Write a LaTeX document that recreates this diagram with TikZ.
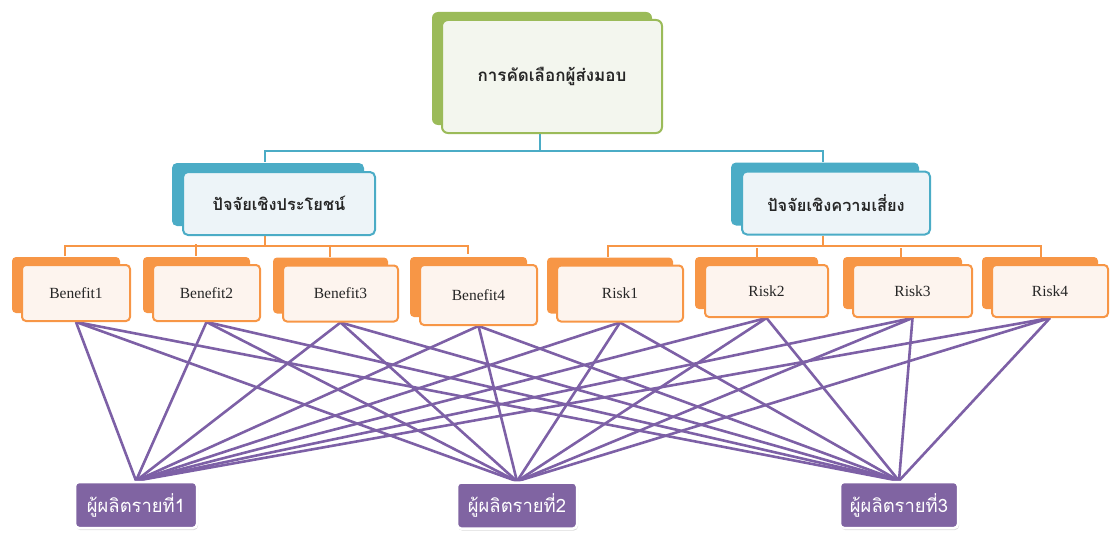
\documentclass[tikz,border=0pt]{standalone}
\usepackage{fontspec}
\setmainfont{Liberation Serif}
\newfontfamily\thaifont[Script=Thai]{Loma}
\usetikzlibrary{shadows,backgrounds}
\definecolor{gr}{HTML}{9BBB59}
\definecolor{grfill}{HTML}{F3F6EE}
\definecolor{tl}{HTML}{4BACC6}
\definecolor{tlfill}{HTML}{EDF4F8}
\definecolor{orr}{HTML}{F79646}
\definecolor{orfill}{HTML}{FDF4EE}
\definecolor{pu}{HTML}{8064A2}
\definecolor{puline}{HTML}{7D60A6}
\tikzset{
  topbox/.style={draw=gr, line width=2pt, fill=grfill, rounded corners=6pt,
    general shadow={shadow xshift=-10pt, shadow yshift=8pt, fill=gr},
    minimum width=220pt, minimum height=113pt, font=\thaifont\bfseries\fontsize{17}{19}\selectfont, text=black!85},
  midbox/.style={draw=tl, line width=2pt, fill=tlfill, rounded corners=5pt,
    general shadow={shadow xshift=-11pt, shadow yshift=9pt, fill=tl},
    minimum height=63pt, font=\thaifont\bfseries\fontsize{16.4}{18}\selectfont, text=black!85},
  leafbox/.style={draw=orr, line width=2pt, fill=orfill, rounded corners=4pt,
    general shadow={shadow xshift=-10pt, shadow yshift=8pt, fill=orr},
    minimum height=56pt, font=\fontsize{15.5}{17}\selectfont, text=black!85},
  supbox/.style={draw=white, line width=2.5pt, fill=pu, rounded corners=4pt,
    drop shadow={shadow xshift=1pt, shadow yshift=-2pt, opacity=.35, fill=black!40},
    minimum width=120pt, minimum height=46pt, font=\thaifont\fontsize{18.4}{20}\selectfont, text=white},
  tline/.style={draw=tl, line width=2pt},
  oline/.style={draw=orr, line width=2pt},
  pline/.style={draw=puline, line width=2.6pt}
}
\begin{document}
\begin{tikzpicture}[x=1pt,y=-1pt]
\useasboundingbox (0,0) rectangle (1110,535);
% top
\node[topbox] (top) at (552,76.5) {การคัดเลือกผู้ส่งมอบ};
% middle
\node[midbox, minimum width=192pt] (ml) at (279,203.5) {ปัจจัยเชิงประโยชน์};
\node[midbox, minimum width=188pt] (mr) at (836,203) {ปัจจัยเชิงความเสี่ยง};
% leaves
\node[leafbox, minimum width=108pt] (B1) at (76,293) {Benefit1};
\node[leafbox, minimum width=107pt] (B2) at (206.5,293) {Benefit2};
\node[leafbox, minimum width=115pt] (B3) at (340.5,293.5) {Benefit3};
\node[leafbox, minimum width=117pt, minimum height=60pt] (B4) at (478.5,295) {Benefit4};
\node[leafbox, minimum width=126pt] (R1) at (620,293.5) {Risk1};
\node[leafbox, minimum width=123pt, minimum height=52pt] (R2) at (766.5,291) {Risk2};
\node[leafbox, minimum width=119pt, minimum height=52pt] (R3) at (912.5,291) {Risk3};
\node[leafbox, minimum width=116pt, minimum height=52pt] (R4) at (1050,291) {Risk4};
% suppliers
\node[supbox, minimum width=122pt] (P1) at (136,505) {ผู้ผลิตรายที่1};
\node[supbox] (P2) at (517,505.5) {ผู้ผลิตรายที่2};
\node[supbox, minimum width=118pt] (P3) at (899,505) {ผู้ผลิตรายที่3};
\begin{scope}[on background layer]
% teal connectors
\draw[tline] ([xshift=-12pt]top.south) -- ++(0,17) coordinate (tj);
\draw[tline] ([xshift=-14pt,yshift=9pt]ml.north) |- (tj) -| ([xshift=-13pt,yshift=9pt]mr.north);
% orange connectors
\draw[oline] ([xshift=-14pt]ml.south) -- ++(0,10) coordinate (lj);
\draw[oline] ([xshift=-11pt,yshift=8pt]B1.north) |- (lj) -| ([xshift=-11pt,yshift=10pt]B4.north);
\draw[oline] ([xshift=-11pt,yshift=8pt]B2.north) -- ++(0,-12);
\draw[oline] ([xshift=-11pt,yshift=8pt]B3.north) -- ++(0,-12);
\draw[oline] ([xshift=-13pt]mr.south) -- ++(0,10.5) coordinate (rj);
\draw[oline] ([xshift=-12pt,yshift=8pt]R1.north) |- (rj) -| ([xshift=-9pt,yshift=6pt]R4.north);
\draw[oline] ([xshift=-10pt,yshift=6pt]R2.north) -- ++(0,-10);
\draw[oline] ([xshift=-12pt,yshift=6pt]R3.north) -- ++(0,-10);
% purple connectors
\foreach \s in {B1,B2,B3,B4,R1,R2,R3,R4}
  \foreach \p in {P1,P2,P3}
    \draw[pline] (\s.south) -- (\p.north);
\end{scope}
\end{tikzpicture}
\end{document}
